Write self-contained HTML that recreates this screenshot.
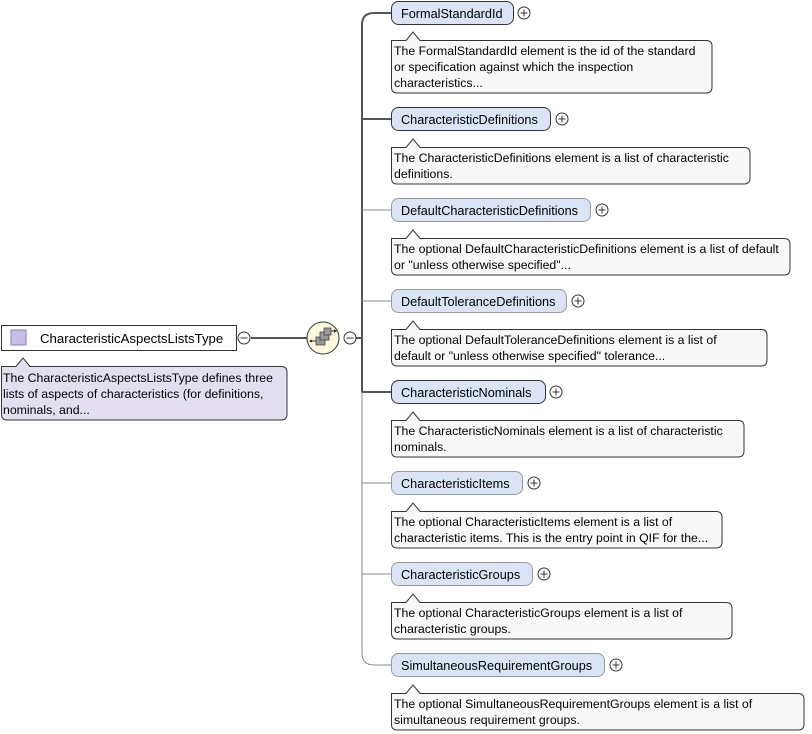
<!DOCTYPE html>
<html><head><meta charset="utf-8"><style>
html,body{margin:0;padding:0;background:#fff;}
svg{display:block;font-family:"Liberation Sans",Arial,sans-serif;}
.en{font-size:12.7px;fill:#000;}
.rt{font-size:13.2px;fill:#000;}
.dt{font-size:12.3px;fill:#000;}
</style></head><body>
<svg width="812" height="734" viewBox="0 0 812 734" xmlns="http://www.w3.org/2000/svg">
<path d="M391,13 H374 Q362,13 362,25 V392" fill="none" stroke="#555" stroke-width="2"/>
<path d="M362,392 V653 Q362,665 374,665 H391" fill="none" stroke="#888" stroke-width="1"/>
<line x1="362" y1="119" x2="391" y2="119" stroke="#555" stroke-width="2"/>
<line x1="362" y1="210" x2="391" y2="210" stroke="#888"/>
<line x1="362" y1="301" x2="391" y2="301" stroke="#888"/>
<line x1="362" y1="392" x2="391" y2="392" stroke="#555" stroke-width="2"/>
<line x1="362" y1="483" x2="391" y2="483" stroke="#888"/>
<line x1="362" y1="574" x2="391" y2="574" stroke="#888"/>
<line x1="356" y1="338" x2="362" y2="338" stroke="#555" stroke-width="2"/>
<line x1="251" y1="338" x2="307" y2="338" stroke="#555" stroke-width="2"/>

<rect x="1.5" y="325.5" width="235" height="25" fill="#fff" stroke="#333"/>
<rect x="11" y="330" width="15" height="15" fill="#c9bfe6" stroke="#8a7fb8"/>
<text class="rt" x="40" y="343">CharacteristicAspectsListsType</text>
<circle cx="244" cy="338" r="6" fill="#fff" stroke="#333"/>
<line x1="240.5" y1="338" x2="247.5" y2="338" stroke="#333"/>
<path d="M1.5,366.5 H16 L23,358 L30,366.5 H281 Q287,366.5 287,372 V414 Q287,420 281,420 H7 Q1.5,420 1.5,414 Z" fill="#e3dff0" stroke="#333"/>
<text class="dt" x="3" y="382">The CharacteristicAspectsListsType defines three</text>
<text class="dt" x="3" y="398">lists of aspects of characteristics (for definitions,</text>
<text class="dt" x="3" y="414">nominals, and...</text>

<circle cx="323" cy="338" r="16" fill="#fbf8dc" stroke="#333"/>
<rect x="316" y="337" width="9" height="8" fill="#999" stroke="#444" stroke-width="0.8"/>
<rect x="320" y="332" width="9" height="8" fill="#999" stroke="#444" stroke-width="0.8"/>
<rect x="324" y="328" width="7" height="7" fill="#999" stroke="#444" stroke-width="0.8"/>
<line x1="311" y1="341" x2="316" y2="341" stroke="#333"/>
<line x1="331" y1="331" x2="335" y2="331" stroke="#333"/>
<circle cx="311" cy="341" r="1.3" fill="#333"/>
<path d="M334,329 L337,331 L334,333Z" fill="#333"/>
<circle cx="350" cy="338" r="6" fill="#fff" stroke="#333"/>
<line x1="346.5" y1="338" x2="353.5" y2="338" stroke="#333"/>

<rect x="391.5" y="1.5" width="122" height="23" rx="7" fill="#d9e5f7" stroke="#333"/>
<text class="en" x="401" y="18">FormalStandardId</text>
<circle cx="524" cy="13" r="6" fill="#fff" stroke="#333"/><path d="M520.5,13H527.5M524,9.5V16.5" stroke="#333"/>
<path d="M391.5,40.5 H406 L413,32 L420,40.5 H706 Q712,40.5 712,46 V87 Q712,93 706,93 H397 Q391.5,93 391.5,87 Z" fill="#f8f8f8" stroke="#333"/>
<text class="dt" x="394" y="55">The FormalStandardId element is the id of the standard</text>
<text class="dt" x="394" y="71">or specification against which the inspection</text>
<text class="dt" x="394" y="87">characteristics...</text>

<rect x="391.5" y="107.5" width="159" height="23" rx="7" fill="#d9e5f7" stroke="#333"/>
<text class="en" x="401" y="124">CharacteristicDefinitions</text>
<circle cx="562" cy="119" r="6" fill="#fff" stroke="#333"/><path d="M558.5,119H565.5M562,115.5V122.5" stroke="#333"/>
<path d="M391.5,147.5 H406 L413,139 L420,147.5 H744 Q750,147.5 750,153 V178 Q750,184 744,184 H397 Q391.5,184 391.5,178 Z" fill="#f8f8f8" stroke="#333"/>
<text class="dt" x="394" y="162">The CharacteristicDefinitions element is a list of characteristic</text>
<text class="dt" x="394" y="178">definitions.</text>

<rect x="391.5" y="198.5" width="199" height="23" rx="7" fill="#d9e5f7" stroke="#999"/>
<text class="en" x="401" y="215">DefaultCharacteristicDefinitions</text>
<circle cx="602" cy="210" r="6" fill="#fff" stroke="#333"/><path d="M598.5,210H605.5M602,206.5V213.5" stroke="#333"/>
<path d="M391.5,238.5 H406 L413,230 L420,238.5 H784 Q790,238.5 790,244 V269 Q790,275 784,275 H397 Q391.5,275 391.5,269 Z" fill="#f8f8f8" stroke="#333"/>
<text class="dt" x="394" y="253">The optional DefaultCharacteristicDefinitions element is a list of default</text>
<text class="dt" x="394" y="269">or "unless otherwise specified"...</text>

<rect x="391.5" y="289.5" width="175" height="23" rx="7" fill="#d9e5f7" stroke="#999"/>
<text class="en" x="401" y="306">DefaultToleranceDefinitions</text>
<circle cx="578" cy="301" r="6" fill="#fff" stroke="#333"/><path d="M574.5,301H581.5M578,297.5V304.5" stroke="#333"/>
<path d="M391.5,329.5 H406 L413,321 L420,329.5 H761 Q767,329.5 767,335 V360 Q767,366 761,366 H397 Q391.5,366 391.5,360 Z" fill="#f8f8f8" stroke="#333"/>
<text class="dt" x="394" y="344">The optional DefaultToleranceDefinitions element is a list of</text>
<text class="dt" x="394" y="360">default or "unless otherwise specified" tolerance...</text>

<rect x="391.5" y="380.5" width="154" height="23" rx="7" fill="#d9e5f7" stroke="#333"/>
<text class="en" x="401" y="397">CharacteristicNominals</text>
<circle cx="556" cy="392" r="6" fill="#fff" stroke="#333"/><path d="M552.5,392H559.5M556,388.5V395.5" stroke="#333"/>
<path d="M391.5,420.5 H406 L413,412 L420,420.5 H738 Q744,420.5 744,426 V451 Q744,457 738,457 H397 Q391.5,457 391.5,451 Z" fill="#f8f8f8" stroke="#333"/>
<text class="dt" x="394" y="435">The CharacteristicNominals element is a list of characteristic</text>
<text class="dt" x="394" y="451">nominals.</text>

<rect x="391.5" y="471.5" width="131" height="23" rx="7" fill="#d9e5f7" stroke="#999"/>
<text class="en" x="401" y="488">CharacteristicItems</text>
<circle cx="534" cy="483" r="6" fill="#fff" stroke="#333"/><path d="M530.5,483H537.5M534,479.5V486.5" stroke="#333"/>
<path d="M391.5,511.5 H406 L413,503 L420,511.5 H716 Q722,511.5 722,517 V542 Q722,548 716,548 H397 Q391.5,548 391.5,542 Z" fill="#f8f8f8" stroke="#333"/>
<text class="dt" x="394" y="526">The optional CharacteristicItems element is a list of</text>
<text class="dt" x="394" y="542">characteristic items. This is the entry point in QIF for the...</text>

<rect x="391.5" y="562.5" width="141" height="23" rx="7" fill="#d9e5f7" stroke="#999"/>
<text class="en" x="401" y="579">CharacteristicGroups</text>
<circle cx="544" cy="574" r="6" fill="#fff" stroke="#333"/><path d="M540.5,574H547.5M544,570.5V577.5" stroke="#333"/>
<path d="M391.5,602.5 H406 L413,594 L420,602.5 H726 Q732,602.5 732,608 V633 Q732,639 726,639 H397 Q391.5,639 391.5,633 Z" fill="#f8f8f8" stroke="#333"/>
<text class="dt" x="394" y="617">The optional CharacteristicGroups element is a list of</text>
<text class="dt" x="394" y="633">characteristic groups.</text>

<rect x="391.5" y="653.5" width="213" height="23" rx="7" fill="#d9e5f7" stroke="#999"/>
<text class="en" x="401" y="670">SimultaneousRequirementGroups</text>
<circle cx="616" cy="665" r="6" fill="#fff" stroke="#333"/><path d="M612.5,665H619.5M616,661.5V668.5" stroke="#333"/>
<path d="M391.5,693.5 H406 L413,685 L420,693.5 H798 Q804,693.5 804,699 V724 Q804,730 798,730 H397 Q391.5,730 391.5,724 Z" fill="#f8f8f8" stroke="#333"/>
<text class="dt" x="394" y="708">The optional SimultaneousRequirementGroups element is a list of</text>
<text class="dt" x="394" y="724">simultaneous requirement groups.</text>
</svg>
</body></html>
